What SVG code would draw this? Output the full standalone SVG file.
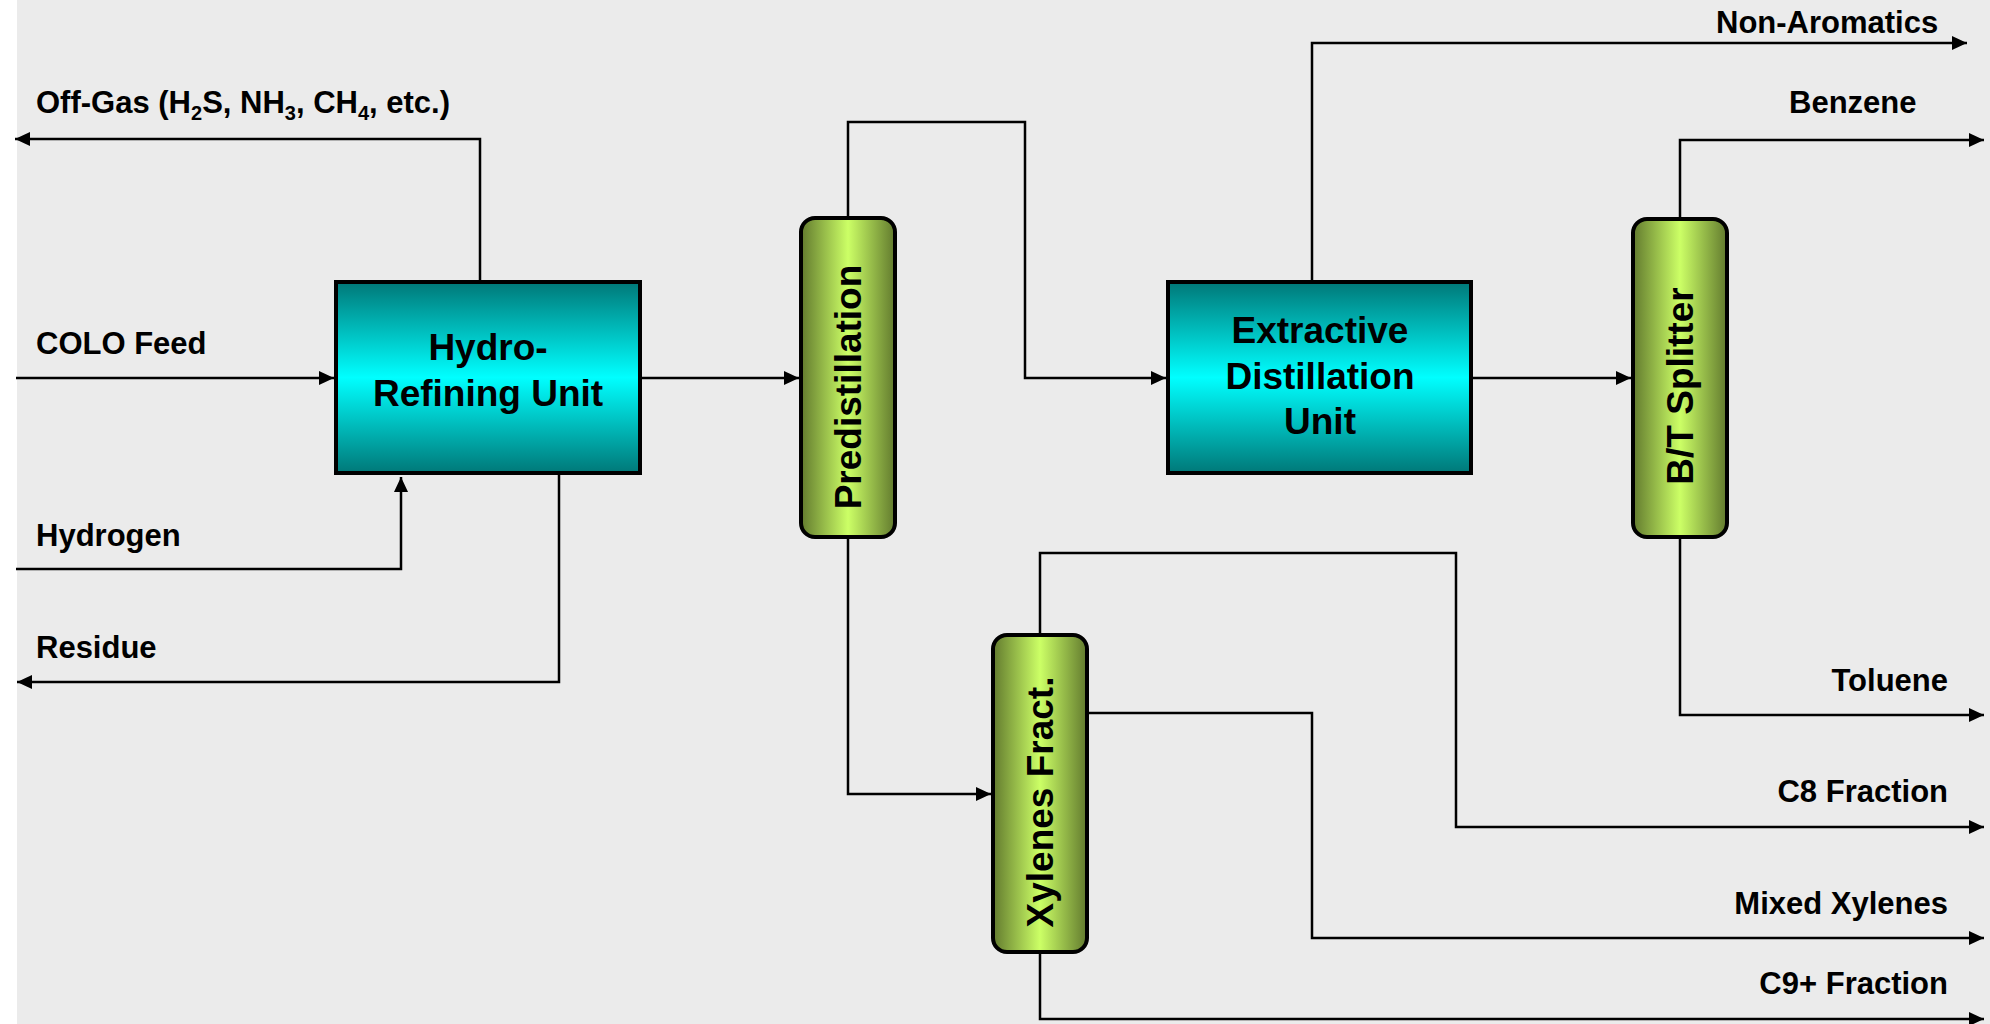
<svg xmlns="http://www.w3.org/2000/svg" width="1990" height="1024" viewBox="0 0 1990 1024">
<defs>
<linearGradient id="gBlue" x1="0" y1="0" x2="0" y2="1">
<stop offset="0" stop-color="#007878"/>
<stop offset="0.5" stop-color="#00FFFF"/>
<stop offset="1" stop-color="#007878"/>
</linearGradient>
<linearGradient id="gGreen" x1="0" y1="0" x2="1" y2="0">
<stop offset="0" stop-color="#627A2E"/>
<stop offset="0.5" stop-color="#CCFF66"/>
<stop offset="1" stop-color="#627A2E"/>
</linearGradient>
<marker id="arr" viewBox="0 0 15 14" refX="15" refY="7" markerWidth="15" markerHeight="14" markerUnits="userSpaceOnUse" orient="auto">
<path d="M0,0 L15,7 L0,14 Z" fill="#000"/>
</marker>
<style>
.box{fill:url(#gBlue);stroke:#000;stroke-width:4}
.col{fill:url(#gGreen);stroke:#000;stroke-width:4}
.ln{fill:none;stroke:#000;stroke-width:2.5}
.arw{marker-end:url(#arr)}
.nt{font-family:"Liberation Sans",Arial,sans-serif;font-weight:bold;font-size:37px;fill:#000;text-anchor:middle}
.lb{font-family:"Liberation Sans",Arial,sans-serif;font-weight:bold;font-size:31px;fill:#000}
.end{text-anchor:end}
</style>
</defs>
<rect x="0" y="0" width="1990" height="1024" fill="#FFFFFF"/>
<rect x="17" y="0" width="1973" height="1024" fill="#EBEBEB"/>

<g id="connectors">
<path class="ln arw" d="M480,282 V139 H15"/>
<path class="ln arw" d="M16,378 H334"/>
<path class="ln arw" d="M16,569 H401 V477"/>
<path class="ln arw" d="M559,475 V682 H17"/>
<path class="ln arw" d="M642,378 H799"/>
<path class="ln arw" d="M848,216 V122 H1025 V378 H1166"/>
<path class="ln arw" d="M848,539 V794 H991"/>
<path class="ln arw" d="M1312,280 V43 H1967"/>
<path class="ln arw" d="M1473,378 H1631"/>
<path class="ln arw" d="M1680,217 V140 H1984"/>
<path class="ln arw" d="M1680,539 V715 H1984"/>
<path class="ln arw" d="M1040,633 V553 H1456 V827 H1984"/>
<path class="ln arw" d="M1089,713 H1312 V938 H1984"/>
<path class="ln arw" d="M1040,954 V1019 H1984"/>
</g>

<g id="hydro-refining-unit">
<rect class="box" x="336" y="282" width="304" height="191"/>
<text class="nt" x="488" y="360">Hydro-</text>
<text class="nt" x="488" y="406">Refining Unit</text>
</g>

<g id="predistillation">
<rect class="col" x="801" y="218" width="94" height="319" rx="14" ry="14"/>
<text class="nt" transform="translate(861,387) rotate(-90)">Predistillation</text>
</g>

<g id="extractive-distillation-unit">
<rect class="box" x="1168" y="282" width="303" height="191"/>
<text class="nt" x="1320" y="343">Extractive</text>
<text class="nt" x="1320" y="389">Distillation</text>
<text class="nt" x="1320" y="434">Unit</text>
</g>

<g id="bt-splitter">
<rect class="col" x="1633" y="219" width="94" height="318" rx="14" ry="14"/>
<text class="nt" transform="translate(1693,386) rotate(-90)">B/T Splitter</text>
</g>

<g id="xylenes-fract">
<rect class="col" x="993" y="635" width="94" height="317" rx="14" ry="14"/>
<text class="nt" transform="translate(1053,802) rotate(-90)">Xylenes Fract.</text>
</g>

<g id="labels">
<text class="lb" x="36" y="113">Off-Gas (H<tspan font-size="20" dy="7">2</tspan><tspan dy="-7">S, NH</tspan><tspan font-size="20" dy="7">3</tspan><tspan dy="-7">, CH</tspan><tspan font-size="20" dy="7">4</tspan><tspan dy="-7">, etc.)</tspan></text>
<text class="lb" x="36" y="354">COLO Feed</text>
<text class="lb" x="36" y="546">Hydrogen</text>
<text class="lb" x="36" y="658">Residue</text>
<text class="lb" x="1716" y="33">Non-Aromatics</text>
<text class="lb" x="1789" y="113">Benzene</text>
<text class="lb end" x="1948" y="691">Toluene</text>
<text class="lb end" x="1948" y="802">C8 Fraction</text>
<text class="lb end" x="1948" y="914">Mixed Xylenes</text>
<text class="lb end" x="1948" y="994">C9+ Fraction</text>
</g>
</svg>
